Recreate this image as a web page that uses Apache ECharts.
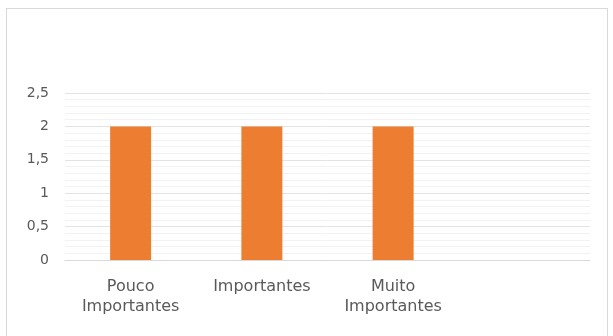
<!DOCTYPE html>
<html>
<head>
<meta charset="utf-8">
<script src="https://cdn.jsdelivr.net/npm/echarts@6/dist/echarts.min.js"></script>
<style>
html,body{margin:0;padding:0;background:#fff;}
#frame{position:absolute;left:6px;top:8px;width:602px;height:340px;border:1px solid #d9d9d9;box-sizing:border-box;}
#chart{position:absolute;left:0;top:0;width:613px;height:336px;}
</style>
</head>
<body>
<div id="frame"></div>
<div id="chart"></div>
<script>
const categories = ['Pouco\nImportantes', 'Importantes', 'Muito\nImportantes', ''];
const values = [2, 2, 2, null];
const yTicks = [0, 0.5, 1, 1.5, 2, 2.5];

const FONT = '"DejaVu Sans", "Open Sans", sans-serif';
const chart = echarts.init(document.getElementById('chart'));
chart.setOption({
  animation: false,
  grid: { left: 65, right: 23, top: 93, bottom: 76, containLabel: false },
  xAxis: {
    type: 'category',
    data: categories,
    axisLine: { show: true, lineStyle: { color: '#d9d9d9', width: 1 } },
    axisTick: { show: false },
    axisLabel: { color: '#595959', fontSize: 16, fontFamily: FONT, lineHeight: 20, margin: 17, interval: 0 }
  },
  yAxis: {
    type: 'value',
    min: 0, max: 2.5, interval: 0.5,
    axisLine: { show: false },
    axisTick: { show: false },
    axisLabel: {
      color: '#595959', fontSize: 14, fontFamily: FONT, margin: 16,
      formatter: v => { const t = yTicks.find(x => Math.abs(x - v) < 1e-9); return String(t !== undefined ? t : v).replace('.', ','); }
    },
    splitLine: { show: true, lineStyle: { color: '#e3e3e3', width: 1 } },
    minorTick: { show: false, splitNumber: 5 },
    minorSplitLine: { show: true, lineStyle: { color: '#f2f2f2', width: 1 } }
  },
  series: [{
    type: 'bar',
    data: values,
    barWidth: 41,
    itemStyle: { color: '#ED7D31' }
  }]
});
</script>
</body>
</html>
